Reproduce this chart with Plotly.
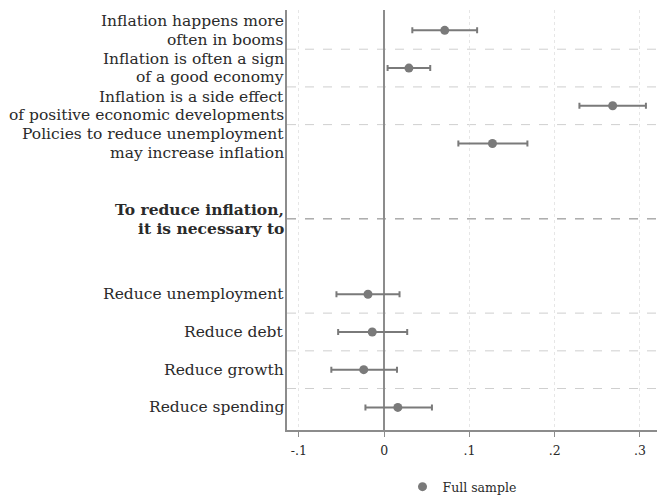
import plotly.graph_objects as go

# Data
labels = [
    "Inflation happens more<br>often in booms",
    "Inflation is often a sign<br>of a good economy",
    "Inflation is a side effect<br>of positive economic developments",
    "Policies to reduce unemployment<br>may increase inflation",
    "",
    "<b>To reduce inflation,</b><br><b>it is necessary to</b>",
    "",
    "Reduce unemployment",
    "Reduce debt",
    "Reduce growth",
    "Reduce spending",
]
item_pos = [0, 1, 2, 3, 7, 8, 9, 10]
estimates = [0.071, 0.029, 0.268, 0.127, -0.019, -0.014, -0.024, 0.016]
ci_low = [0.033, 0.004, 0.229, 0.087, -0.056, -0.054, -0.062, -0.022]
ci_high = [0.109, 0.054, 0.307, 0.168, 0.018, 0.027, 0.015, 0.056]
xticks = [-0.1, 0, 0.1, 0.2, 0.3]
xticklabels = ["-.1", "0", ".1", ".2", ".3"]
sep_light = [0.5, 1.5, 2.5, 7.5, 8.5, 9.5]
sep_header = [5]

label_font = "DejaVu Serif"
gray = "#7a7a7a"
axis_gray = "#8c8c8c"

fig = go.Figure()
fig.add_trace(go.Scatter(
    x=estimates, y=item_pos, mode="markers", name="Full sample",
    marker=dict(color=gray, size=9),
    error_x=dict(type="data", symmetric=False,
                 array=[h - e for h, e in zip(ci_high, estimates)],
                 arrayminus=[e - l for e, l in zip(estimates, ci_low)],
                 color=gray, thickness=2, width=3),
))

shapes = []
for s in sep_light:
    shapes.append(dict(type="line", xref="paper", x0=0, x1=1, yref="y", y0=s, y1=s,
                       line=dict(color="#cfcfcf", width=1, dash="dash"), layer="below"))
for s in sep_header:
    shapes.append(dict(type="line", xref="paper", x0=0, x1=1, yref="y", y0=s, y1=s,
                       line=dict(color="#808080", width=1, dash="dash"), layer="below"))
fig.update_layout(shapes=shapes)

# Category labels: one annotation per text line (tight line spacing)
line_gap = 18.5
annotations = []
for i, lab in enumerate(labels):
    if not lab:
        continue
    parts = lab.split("<br>")
    n = len(parts)
    for k, part in enumerate(parts):
        shift = ((n - 1) / 2 - k) * line_gap
        annotations.append(dict(x=0, xref="paper", xanchor="right", xshift=-1,
                                y=i, yref="y", yanchor="middle", yshift=shift,
                                text=part, showarrow=False, align="right",
                                font=dict(family=label_font, size=15.5, color="#2a2a2a")))
fig.update_layout(annotations=annotations)

fig.update_layout(
    width=661, height=497,
    margin=dict(l=287, r=4, t=10, b=67, autoexpand=False),
    paper_bgcolor="white", plot_bgcolor="white",
    font=dict(family=label_font, color="#2a2a2a", size=13),
    showlegend=True,
    legend=dict(orientation="h", x=0.473, xanchor="center", y=-0.1, yanchor="top",
                font=dict(size=12.5, family=label_font), itemwidth=30),
    xaxis=dict(range=[-0.114, 0.32], tickvals=xticks, ticktext=xticklabels,
               showgrid=True, gridcolor="#e6e6e6", griddash="dot", gridwidth=1,
               zeroline=True, zerolinecolor=axis_gray, zerolinewidth=1.5,
               showline=True, linecolor=axis_gray, linewidth=1.5, automargin=False,
               ticks="outside", ticklen=5, tickcolor=axis_gray, ticklabelstandoff=3,
               tickfont=dict(size=12.5, family=label_font)),
    yaxis=dict(range=[10.6, -0.54], tickvals=[], showticklabels=False,
               showgrid=False, zeroline=False, showline=True, linecolor=axis_gray,
               linewidth=1.5, ticks="", automargin=False),
)

fig.write_html("out.html", config={"displayModeBar": False},
               post_script="document.body.style.margin='0';")
